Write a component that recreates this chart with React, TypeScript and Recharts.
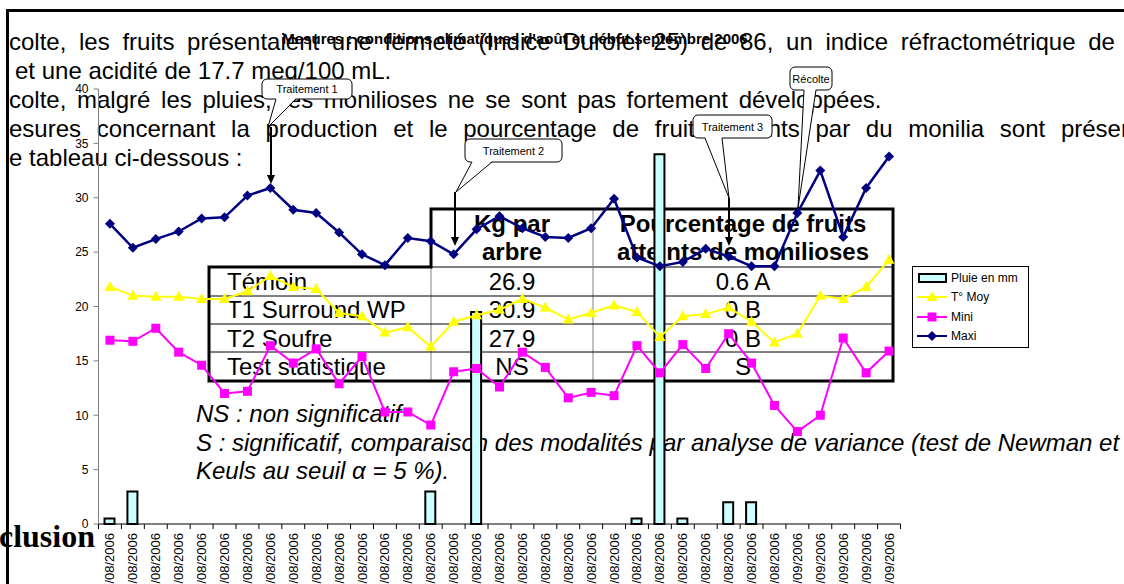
import { Bar, ComposedChart, Legend, Line, XAxis, YAxis } from "recharts";

const FONT = "'Liberation Sans', Arial, sans-serif";

// days of the measurement period (x axis)
const DATES = [
  "02/08/2006", "03/08/2006", "04/08/2006", "05/08/2006", "06/08/2006",
  "07/08/2006", "08/08/2006", "09/08/2006", "10/08/2006", "11/08/2006",
  "12/08/2006", "13/08/2006", "14/08/2006", "15/08/2006", "16/08/2006",
  "17/08/2006", "18/08/2006", "19/08/2006", "20/08/2006", "21/08/2006",
  "22/08/2006", "23/08/2006", "24/08/2006", "25/08/2006", "26/08/2006",
  "27/08/2006", "28/08/2006", "29/08/2006", "30/08/2006", "31/08/2006",
  "01/09/2006", "02/09/2006", "03/09/2006", "04/09/2006", "05/09/2006",
];

const RAIN = [
  0.5, 3, 0, 0, 0, 0, 0, 0, 0, 0, 0, 0, 0, 0, 3, 0, 19.5, 0, 0, 0, 0, 0, 0,
  0.5, 34, 0.5, 0, 2, 2, 0, 0, 0, 0, 0, 0,
];

const T_MOY = [
  21.8, 21.0, 20.9, 20.9, 20.7, 20.7, 21.4, 22.8, 21.8, 21.6, 19.4, 19.1, 17.6,
  18.1, 16.3, 18.6, 19.2, 19.7, 20.7, 19.9, 18.8, 19.4, 20.1, 19.5, 17.2, 19.1,
  19.3, 19.9, 18.6, 16.7, 17.5, 21.0, 20.7, 21.8, 24.3,
];

const MINI = [
  16.9, 16.8, 18.0, 15.8, 14.6, 12.0, 12.2, 16.4, 14.8, 16.1, 12.9, 15.4, 10.3,
  10.3, 9.1, 14.0, 14.3, 12.6, 15.8, 14.4, 11.6, 12.1, 11.8, 16.4, 13.9, 16.5,
  14.3, 17.5, 14.8, 10.9, 8.5, 10.0, 17.1, 13.9, 15.9,
];

const MAXI = [
  27.6, 25.4, 26.2, 26.9, 28.1, 28.2, 30.2, 30.9, 28.9, 28.6, 26.8, 24.8, 23.8,
  26.3, 26.0, 24.8, 27.1, 28.3, 27.2, 26.4, 26.3, 27.2, 29.9, 24.5, 23.7, 24.1,
  25.3, 24.6, 23.7, 23.7, 28.6, 32.5, 26.4, 30.9, 33.8,
];

const Y_TICKS = [0, 5, 10, 15, 20, 25, 30, 35, 40];
const LEGEND_ORDER = ["rain", "tmoy", "mini", "maxi"];

const data = DATES.map((date, i) => ({
  i,
  date,
  rain: RAIN[i],
  tmoy: T_MOY[i],
  mini: MINI[i],
  maxi: MAXI[i],
}));

// labels on whole indexes, tick marks between categories
const X_TICKS = DATES.flatMap((_, i) => [i - 0.5, i]).concat(DATES.length - 0.5);

const YELLOW = "#FFFF00";
const MAGENTA = "#FF00FF";
const NAVY = "#000080";
const CYAN = "#CCFFFF";

function DateTick(props: any) {
  const { x, y, payload } = props;
  const v = payload.value;
  if (!Number.isInteger(v)) {
    return <line x1={x} y1={y} x2={x} y2={y + 5} stroke="#000" />;
  }
  return (
    <text
      transform={`translate(${x + 4.5},${y + 9}) rotate(-90)`}
      textAnchor="end"
      fontSize={13}
      fontFamily={FONT}
      fill="#000"
    >
      {DATES[v]}
    </text>
  );
}

const triangle = (cx: number, cy: number) =>
  `M${cx},${cy - 6}L${cx + 5.5},${cy + 4}L${cx - 5.5},${cy + 4}Z`;
const diamond = (cx: number, cy: number) =>
  `M${cx},${cy - 5}L${cx + 5},${cy}L${cx},${cy + 5}L${cx - 5},${cy}Z`;

const triDot = (p: any) => (
  <path key={`t${p.index}`} d={triangle(p.cx, p.cy)} fill={YELLOW} />
);
const squareDot = (p: any) => (
  <rect key={`s${p.index}`} x={p.cx - 4.5} y={p.cy - 4.5} width={9} height={9} fill={MAGENTA} />
);
const diamondDot = (p: any) => (
  <path key={`d${p.index}`} d={diamond(p.cx, p.cy)} fill={NAVY} />
);

function legendMarker(key: string) {
  if (key === "rain") {
    return <rect x={2} y={2} width={27} height={8} fill={CYAN} stroke="#000" strokeWidth={2} />;
  }
  const color = key === "tmoy" ? YELLOW : key === "mini" ? MAGENTA : NAVY;
  return (
    <g>
      <line x1={0} y1={6} x2={30} y2={6} stroke={color} strokeWidth={2} />
      {key === "tmoy" && <path d={triangle(15, 6)} fill={color} />}
      {key === "mini" && <rect x={10.5} y={1.5} width={9} height={9} fill={color} />}
      {key === "maxi" && <path d={diamond(15, 6)} fill={color} />}
    </g>
  );
}

function LegendBox({ payload }: any) {
  const items = (payload || [])
    .map((e: any) => ({ key: e.dataKey ?? e.payload?.dataKey, value: e.value }))
    .sort((a: any, b: any) => LEGEND_ORDER.indexOf(a.key) - LEGEND_ORDER.indexOf(b.key));
  return (
    <div
      style={{
        border: "1px solid #000",
        background: "#fff",
        padding: "1px 4px",
        fontFamily: FONT,
        fontSize: 12,
        color: "#000",
      }}
    >
      {items.map((e: any) => (
        <div key={e.key} style={{ display: "flex", alignItems: "center", height: 19.5 }}>
          <svg width={31} height={12}>{legendMarker(e.key)}</svg>
          <span style={{ marginLeft: 3 }}>{e.value}</span>
        </div>
      ))}
    </div>
  );
}

const CALLOUTS = [
  { label: "Traitement 1", x: 262, y: 79, w: 90, h: 20, base: [276, 296], tip: [268, 127], arrow: [271, 127, 184] },
  { label: "Traitement 2", x: 465, y: 139, w: 97, h: 23, base: [472, 492], tip: [456, 192], arrow: [455, 192, 246] },
  { label: "Traitement 3", x: 693, y: 115, w: 79, h: 23, base: [705, 722], tip: [729, 198], arrow: [729, 198, 246] },
  { label: "Récolte", x: 790, y: 67, w: 42, h: 23, base: [804, 816], tip: [798, 208], arrow: null },
];

function Document() {
  const t = { fontFamily: FONT, fontSize: 24, fill: "#000" } as const;
  return (
    <svg width={1124} height={584} style={{ position: "absolute", left: 0, top: 0 }}>
      <path d="M7.5,584 L7.5,10.5 L1124,10.5" fill="none" stroke="#000" strokeWidth={3} />
      <text x={9} y={50} {...t} style={{ wordSpacing: 6 }}>
        colte, les fruits présentaient une fermeté (Indice Durofel 25) de 86, un indice réfractométrique de
      </text>
      <text x={15} y={79} {...t}>et une acidité de 17.7 meq/100 mL.</text>
      <text x={9} y={108} {...t} style={{ wordSpacing: 4 }}>
        colte, malgré les pluies, les monilioses ne se sont pas fortement développées.
      </text>
      <text x={9} y={137} {...t} style={{ wordSpacing: 9 }}>
        esures concernant la production et le pourcentage de fruits atteints par du monilia sont présentés
      </text>
      <text x={9} y={166} {...t}>e tableau ci-dessous :</text>

      {/* results table */}
      <line x1={431} y1={267} x2={893} y2={267} stroke="#000" />
      <line x1={431} y1={267} x2={431} y2={381} stroke="#808080" />
      <line x1={593} y1={209} x2={593} y2={381} stroke="#808080" />
      {[296, 324, 352].map((y) => (
        <line key={y} x1={209} y1={y} x2={893} y2={y} stroke="#000" />
      ))}
      <path
        d="M209,267 L431,267 L431,209 L893,209 L893,381 L209,381 Z"
        fill="none"
        stroke="#000"
        strokeWidth={3}
      />
      <g {...t} fontWeight="bold" textAnchor="middle">
        <text x={512} y={232}>Kg par</text>
        <text x={512} y={260}>arbre</text>
        <text x={743} y={232}>Pourcentage de fruits</text>
        <text x={743} y={260}>atteints de monilioses</text>
      </g>
      <g {...t}>
        <text x={227} y={290}>Témoin</text>
        <text x={227} y={318}>T1 Surround WP</text>
        <text x={227} y={347}>T2 Soufre</text>
        <text x={227} y={375}>Test statistique</text>
      </g>
      <g {...t} textAnchor="middle">
        <text x={512} y={290}>26.9</text>
        <text x={512} y={318}>30.9</text>
        <text x={512} y={347}>27.9</text>
        <text x={512} y={375}>NS</text>
        <text x={743} y={290}>0.6 A</text>
        <text x={743} y={318}>0 B</text>
        <text x={743} y={347}>0 B</text>
        <text x={743} y={375}>S</text>
      </g>
      <g {...t} fontStyle="italic">
        <text x={196} y={422}>NS : non significatif</text>
        <text x={196} y={451}>
          S : significatif, comparaison des modalités par analyse de variance (test de Newman et
        </text>
        <text x={196} y={479}>Keuls au seuil α = 5 %).</text>
      </g>
      <text
        x={95}
        y={547}
        textAnchor="end"
        fontFamily="'Liberation Serif', 'Times New Roman', serif"
        fontWeight="bold"
        fontSize={32}
      >
        clusion
      </text>
    </svg>
  );
}

function Annotations() {
  return (
    <svg
      width={1124}
      height={584}
      style={{ position: "absolute", left: 0, top: 0, pointerEvents: "none" }}
    >
      <text
        x={515}
        y={44}
        textAnchor="middle"
        fontFamily={FONT}
        fontWeight="bold"
        fontSize={15}
        fill="#000"
      >
        Mesures : conditions climatiques d'août et début septembre 2006
      </text>
      {CALLOUTS.map((c) => {
        const by = c.y + c.h;
        return (
          <g key={c.label}>
            <rect x={c.x} y={c.y} width={c.w} height={c.h} rx={5} fill="#fff" stroke="#000" />
            <polygon
              points={`${c.base[0]},${by - 1} ${c.base[1]},${by - 1} ${c.tip[0]},${c.tip[1]}`}
              fill="#fff"
            />
            <polyline
              points={`${c.base[0]},${by} ${c.tip[0]},${c.tip[1]} ${c.base[1]},${by}`}
              fill="none"
              stroke="#000"
            />
            <text
              x={c.x + c.w / 2}
              y={c.y + c.h / 2 + 4}
              textAnchor="middle"
              fontFamily={FONT}
              fontSize={11}
              fill="#000"
            >
              {c.label}
            </text>
            {c.arrow && (
              <g>
                <line
                  x1={c.arrow[0]}
                  y1={c.arrow[1]}
                  x2={c.arrow[0]}
                  y2={c.arrow[2] - 6}
                  stroke="#000"
                  strokeWidth={2}
                />
                <polygon
                  points={`${c.arrow[0] - 4},${c.arrow[2] - 9} ${c.arrow[0] + 4},${c.arrow[2] - 9} ${c.arrow[0]},${c.arrow[2]}`}
                  fill="#000"
                />
              </g>
            )}
          </g>
        );
      })}
    </svg>
  );
}

export default function App() {
  return (
    <div
      style={{
        position: "absolute",
        left: 0,
        top: 0,
        width: 1124,
        height: 584,
        overflow: "hidden",
        background: "#fff",
      }}
    >
      <Document />
      <div style={{ position: "absolute", left: 0, top: 0 }}>
        <ComposedChart
          width={1124}
          height={584}
          data={data}
          margin={{ top: 89, right: 223.5, bottom: 0, left: 38.5 }}
        >
          <XAxis
            type="number"
            dataKey="i"
            domain={[-0.5, 34.5]}
            ticks={X_TICKS}
            interval={0}
            tickSize={0}
            tickMargin={0}
            tick={(p: any) => <DateTick {...p} />}
            height={60}
            stroke="#000"
            allowDataOverflow
          />
          <YAxis
            type="number"
            domain={[0, 40]}
            ticks={Y_TICKS}
            interval={0}
            width={60}
            tickSize={5}
            tickMargin={5}
            stroke="#808080"
            tick={{ fill: "#000", fontSize: 12, fontFamily: FONT }}
          />
          <Legend
            layout="vertical"
            align="center"
            verticalAlign="middle"
            content={<LegendBox />}
            wrapperStyle={{ position: "absolute", left: 912, top: 266, width: 117 }}
          />
          <Bar
            dataKey="rain"
            name="Pluie en mm"
            barSize={10}
            fill={CYAN}
            stroke="#000"
            strokeWidth={2}
            isAnimationActive={false}
          />
          <Line
            dataKey="tmoy"
            name="T° Moy"
            stroke={YELLOW}
            strokeWidth={2}
            dot={triDot}
            activeDot={false}
            isAnimationActive={false}
          />
          <Line
            dataKey="mini"
            name="Mini"
            stroke={MAGENTA}
            strokeWidth={2}
            dot={squareDot}
            activeDot={false}
            isAnimationActive={false}
          />
          <Line
            dataKey="maxi"
            name="Maxi"
            stroke={NAVY}
            strokeWidth={2.5}
            dot={diamondDot}
            activeDot={false}
            isAnimationActive={false}
          />
        </ComposedChart>
      </div>
      <Annotations />
    </div>
  );
}
